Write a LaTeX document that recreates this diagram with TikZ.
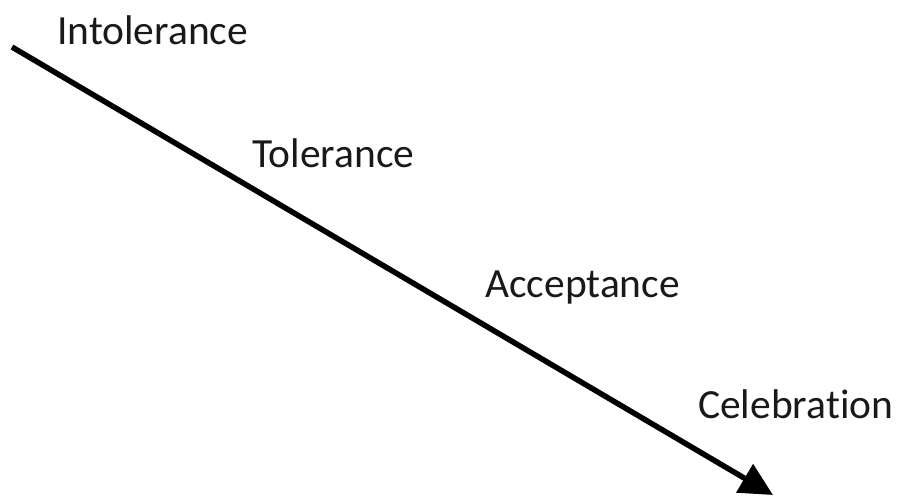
\documentclass[tikz,border=0pt]{standalone}
\usepackage{fontspec}
\setmainfont[RawFeature=-liga]{Carlito}
\usetikzlibrary{arrows.meta}
\tikzset{
  lbl/.style={anchor=base west, inner sep=0pt, font=\fontsize{41.5}{48}\selectfont, text=black!90},
  stagearrow/.style={line width=5.5pt, -{Triangle[length=33pt,width=32pt]}}
}
\begin{document}
\begin{tikzpicture}[x=1pt,y=-1pt]
\useasboundingbox (0,0) rectangle (899,495);
\node[lbl] (intol) at (57,45) {Intolerance};
\node[lbl] (tol) at (252,167) {Tolerance};
\node[lbl] (acc) at (485,297) {Acceptance};
\node[lbl] (cel) at (698,418) {Celebration};
\coordinate (start) at (12,47);
\coordinate (tip) at (773,495);
\draw[stagearrow] (start) -- (tip);
\end{tikzpicture}
\end{document}
